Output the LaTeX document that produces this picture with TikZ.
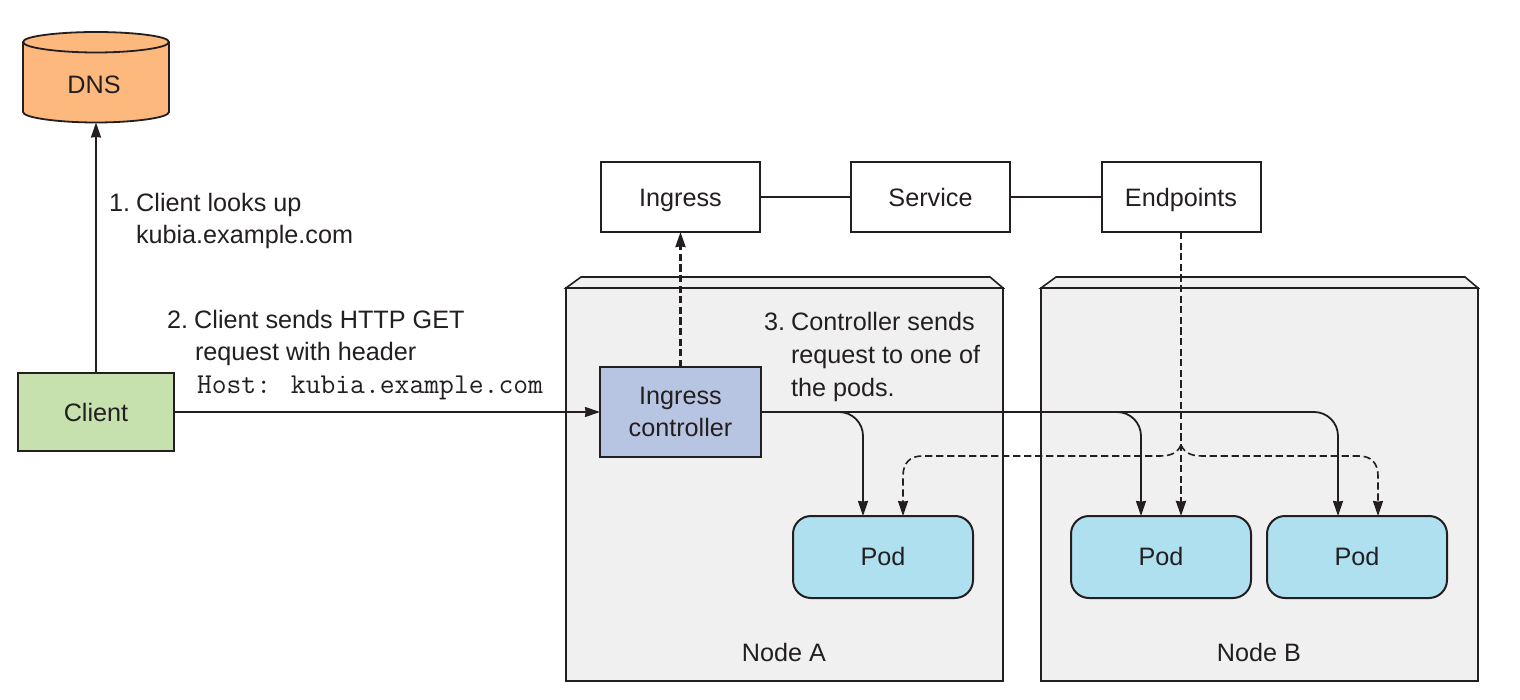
\documentclass[tikz,border=0pt]{standalone}
\usepackage{fontspec}
\setmainfont{Liberation Sans}
\usetikzlibrary{arrows.meta}
\definecolor{ink}{HTML}{231F20}
\definecolor{dnsfill}{HTML}{FDB97D}
\definecolor{clientfill}{HTML}{C7E1AE}
\definecolor{ctrlfill}{HTML}{B8C5E2}
\definecolor{podfill}{HTML}{AFE0F0}
\definecolor{nodefill}{HTML}{F0F0F0}
\tikzset{
  x=0.5pt,y=-0.5pt,
  every node/.style={font=\fontsize{12.6}{16.3}\selectfont,text=ink,outer sep=0pt,inner sep=0pt},
  boxbase/.style={draw=ink,line width=1pt,align=center,minimum width=#1},
  wbox/.style={boxbase=79.5pt,fill=white,minimum height=35pt,text height=9.8pt,text depth=0pt},
  clientbox/.style={boxbase=78pt,fill=clientfill,minimum height=39pt},
  ctrlbox/.style={boxbase=80.5pt,fill=ctrlfill,minimum height=45pt},
  podbox/.style={boxbase=90pt,fill=podfill,minimum height=41pt,rounded corners=9pt,text height=9pt,text depth=1pt},
  hostbox/.style={draw=ink,line width=1.1pt,fill=nodefill,minimum width=218.5pt,minimum height=196.5pt},
  roof/.style={draw=ink,line width=.8pt,fill=nodefill,line join=miter},
  note/.style={anchor=west,align=left},
  conn/.style={draw=ink,line width=.9pt,-{Stealth[length=7.5pt,width=5pt,inset=.3pt]}},
  dconn/.style={conn,line width=1.15pt,dash pattern=on 3.6pt off 1.7pt},
  dthin/.style={conn,line width=.8pt,dash pattern=on 3.6pt off 1.9pt},
  plain/.style={draw=ink,line width=.9pt},
}
\begin{document}
\begin{tikzpicture}
\useasboundingbox[fill=white] (0,0) rectangle (1520,700);
% DNS cylinder
\filldraw[draw=ink,fill=dnsfill,line width=.9pt]
  (23,42) -- (23,112) .. controls (23,118) and (60,122.5) .. (96,122.5)
  .. controls (132,122.5) and (169,118) .. (169,112) -- (169,42)
  .. controls (169,36) and (132,32) .. (96,32) .. controls (60,32) and (23,36) .. (23,42) -- cycle;
\draw[draw=ink,line width=.9pt] (23,42) .. controls (23,48) and (60,52.5) .. (96,52.5) .. controls (132,52.5) and (169,48) .. (169,42);
\node[minimum width=73pt,minimum height=45pt] (dns) at (96,77.5) {};
\node at (94,85) {DNS};
% host machines
\filldraw[roof] (566,288) -- (581,277) -- (990,277) -- (1003,288) -- cycle;
\node[hostbox] (nodeA) at (784.5,484.5) {};
\filldraw[roof] (1041,288) -- (1056,277) -- (1465,277) -- (1478,288) -- cycle;
\node[hostbox] (nodeB) at (1259.5,484.5) {};
\node at (784,652) {Node A};
\node at (1259,652) {Node B};
% boxes
\node[wbox] (ingress) at (680.5,197) {Ingress};
\node[wbox] (service) at (930.5,197) {Service};
\node[wbox] (endp) at (1181,197) {Endpoints};
\node[clientbox] (client) at (96,412) {Client};
\node[ctrlbox] (ctrl) at (680.5,412) {Ingress\\controller};
\node[podbox] (podA) at (883,557) {Pod};
\node[podbox] (podB) at (1161,557) {Pod};
\node[podbox] (podC) at (1357,557) {Pod};
% free ends
\coordinate (a1) at (863,516);
\coordinate (a2) at (903,516);
\coordinate (b1) at (1141,516);
\coordinate (c1) at (1338,516);
\coordinate (c2) at (1378,516);
\coordinate (fork) at (1181,445);
% connectors
\draw[plain] (ingress) -- (service);
\draw[plain] (service) -- (endp);
\draw[conn] (client.north) -- (dns.south);
\draw[conn] (client.east) -- (ctrl.west);
\draw[dconn] (ctrl.north) -- (ingress.south);
\draw[conn,rounded corners=12pt] (ctrl.east) -| (a1);
\draw[conn,rounded corners=12pt] (ctrl.east) -| (b1);
\draw[conn,rounded corners=12pt] (ctrl.east) -| (c1);
\draw[dconn] (endp.south) -- (endp.south |- podB.north);
\draw[dthin] (fork) .. controls (1178,452) and (1172,456) .. (1160,456) -- (922,456)
  .. controls (910,456) and (903,463) .. (903,476) -- (a2);
\draw[dthin] (fork) .. controls (1184,452) and (1190,456) .. (1202,456) -- (1359,456)
  .. controls (1371,456) and (1378,463) .. (1378,476) -- (c2);
% notes
\node[note] (n1) at (109,221) {1.\hspace{3.1pt}Client looks up\\\hspace*{13.5pt}kubia.example.com};
\node[note] (n2) at (167,355) {2.\hspace{3.1pt}Client sends HTTP GET\\\hspace*{14pt}request with header\\\hspace*{15pt}{\fontsize{14.4}{16.3}\ttfamily Host: kubia.example.com}};
\node[note] (n3) at (764,357) {3.\hspace{3.1pt}Controller sends\\\hspace*{13.5pt}request to one of\\\hspace*{13.5pt}the pods.};
\end{tikzpicture}
\end{document}
